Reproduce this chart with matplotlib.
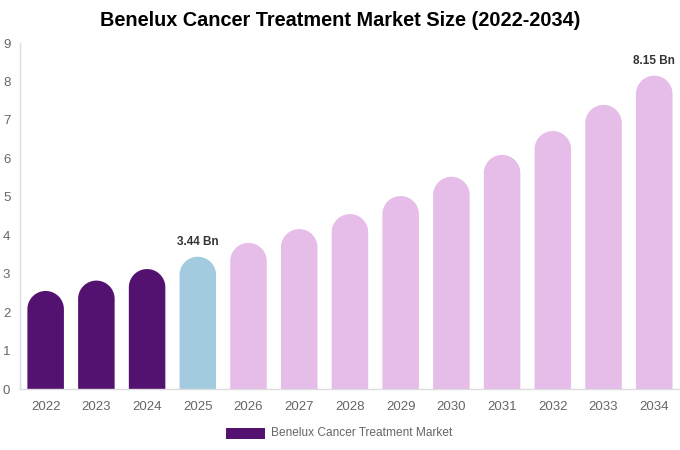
import matplotlib
matplotlib.use("Agg")
import matplotlib.pyplot as plt
import numpy as np
from matplotlib.patches import Polygon, Rectangle

years = ["2022", "2023", "2024", "2025", "2026", "2027", "2028", "2029",
         "2030", "2031", "2032", "2033", "2034"]
values = [2.55, 2.82, 3.12, 3.44, 3.80, 4.16, 4.55, 5.02, 5.52, 6.09, 6.71, 7.39, 8.15]
labels = {3: "3.44 Bn", 12: "8.15 Bn"}
series_name = "Benelux Cancer Treatment Market"

c_hist = "#541270"
c_base = "#a3cbe0"
c_fore = "#e6bce8"
colors = [c_hist if i < 3 else (c_base if i == 3 else c_fore) for i in range(len(years))]

plt.rcParams["font.family"] = ["Liberation Sans", "DejaVu Sans"]

W, H = 680, 450
fig = plt.figure(figsize=(W / 100, H / 100), dpi=100)
ax = fig.add_axes([20.3 / W, (H - 389) / H, (679.6 - 20.3) / W, (389 - 43) / H])
n = len(years)
ax.set_xlim(-0.5, n - 0.5)
ax.set_ylim(0, 9)

bw = 0.72
# convert half bar width (in pixels) to y data units so the top is a semicircle
px_per_x = ax.bbox.width / n
px_per_y = ax.bbox.height / 9.0
rx = bw / 2
ry = rx * px_per_x / px_per_y

theta = np.linspace(np.pi, 0, 40)
for i, (v, c) in enumerate(zip(values, colors)):
    arc = np.column_stack([i + rx * np.cos(theta), (v - ry) + ry * np.sin(theta)])
    pts = np.vstack([[i - rx, 0], arc, [i + rx, 0]])
    ax.add_patch(Polygon(pts, closed=True, facecolor=c, edgecolor="none"))
    if i in labels:
        ax.text(i, v + 0.22, labels[i], ha="center", va="bottom", fontsize=8.5,
                fontweight="bold", color="#333333")

ax.set_xticks(range(n))
ax.set_xticklabels(years)
ax.set_yticks(range(10))
ax.tick_params(axis="both", length=0, labelsize=9.5, labelcolor="#666666")
ax.tick_params(axis="x", pad=9)
ax.tick_params(axis="y", pad=12.5)
for lab in ax.get_yticklabels():
    lab.set_horizontalalignment("left")
for s in ["top", "right"]:
    ax.spines[s].set_visible(False)
for s in ["left", "bottom"]:
    ax.spines[s].set_color("#dddddd")
    ax.spines[s].set_linewidth(1)

fig.text(340 / W, 1 - 21 / H, "Benelux Cancer Treatment Market Size (2022-2034)",
         ha="center", va="center", fontsize=14.3, fontweight="bold", color="#000000")

# legend
fig.patches.append(Rectangle((226 / W, 1 - 439 / H), 39 / W, 11 / H,
                             transform=fig.transFigure, facecolor=c_hist, edgecolor="none"))
fig.text(271 / W, 1 - 433 / H, series_name, ha="left", va="center",
         fontsize=8.6, color="#666666")

fig.savefig("out.png", dpi=100)
